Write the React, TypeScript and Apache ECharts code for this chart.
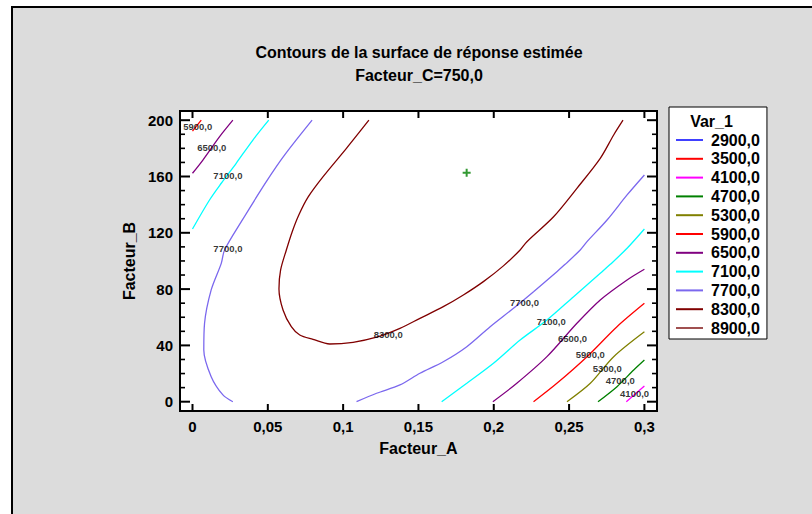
import React, { useEffect, useRef } from "react";
import * as echarts from "echarts";

// Contour levels shown in the legend
const levels = ["2900,0", "3500,0", "4100,0", "4700,0", "5300,0", "5900,0", "6500,0", "7100,0", "7700,0", "8300,0", "8900,0"];
const levelColors = ["#4040ff", "#ff0000", "#ff00ff", "#008000", "#808000", "#ff0000", "#800080", "#00ffff", "#7b68ee", "#800000", "#a05050"];

// Contour polylines (Facteur_A, Facteur_B)
const c4100 = [[0.288, 0], [0.3, 11.2]];
const c4700 = [[0.2692, 0], [0.2818, 10.7], [0.2929, 22.5], [0.3, 29.6]];
const c5300 = [[0.2486, 0], [0.2641, 13.1], [0.2796, 32], [0.3, 49.7]];
const c5900a = [[0, 192.3], [0.0058, 200]];
const c5900b = [[0.2264, 0], [0.2419, 13.1], [0.2619, 32], [0.2818, 53.3], [0.3, 69.9]];
const c6500a = [[0, 162.3], [0.0069, 171.7], [0.018, 188.3], [0.0268, 200]];
const c6500b = [[0.1994, 0], [0.2153, 13.1], [0.2353, 32], [0.2552, 55.7], [0.2707, 72.3], [0.2885, 86.5], [0.3, 94.1]];
const c7100a = [[0, 122.7], [0.0113, 143.3], [0.0191, 155.2], [0.029, 169.4], [0.0401, 185.9], [0.0506, 200]];
const c7100b = [[0.1654, 0], [0.1821, 13.1], [0.1998, 27.3], [0.2175, 43.8], [0.2353, 58], [0.253, 74.6], [0.2707, 91.2], [0.2774, 97.6], [0.2885, 109], [0.3, 122.7]];
const c7700a = [[0.0794, 200], [0.0612, 175.3], [0.049, 156.3], [0.0324, 127.9], [0.0213, 107.8], [0.0191, 98.3], [0.0124, 79.4], [0.008, 55.7], [0.0075, 36.7], [0.0124, 17.8], [0.0202, 4.8], [0.0268, 0]];
const c7700b = [[0.1089, 0], [0.1222, 6], [0.1377, 11.9], [0.151, 20.2], [0.1665, 28.4], [0.1821, 39.1], [0.1976, 53.3], [0.2131, 66.4], [0.2264, 78.2], [0.2419, 92.4], [0.2474, 97.6], [0.2574, 107.8], [0.2619, 113.7], [0.2752, 129.1], [0.2885, 146.9], [0.3, 161.1]];
const c8300 = [[0.1171, 200], [0.1022, 180], [0.0867, 159.9], [0.0768, 145.5], [0.0705, 132.5], [0.0662, 120.8], [0.0623, 107.8], [0.0585, 93.6], [0.0574, 80.1], [0.0601, 65.2], [0.0656, 53.3], [0.0712, 47.4], [0.08, 44.3], [0.0911, 41], [0.1066, 42.2], [0.1222, 45.8], [0.1377, 52.1], [0.151, 59.2], [0.1665, 67.5], [0.1798, 75.8], [0.1931, 85.3], [0.2064, 96.5], [0.2175, 107.8], [0.222, 113.7], [0.2397, 131.4], [0.2552, 151.6], [0.2707, 172.9], [0.2796, 189.5], [0.2858, 200]];

const contourLevels = ["4100,0", "4700,0", "5300,0", "5900,0", "5900,0", "6500,0", "6500,0", "7100,0", "7100,0", "7700,0", "7700,0", "8300,0"];
const contourLines = [c4100, c4700, c5300, c5900a, c5900b, c6500a, c6500b, c7100a, c7100b, c7700a, c7700b, c8300];

// Contour labels
const labelTexts = ["5900,0", "6500,0", "7100,0", "7700,0", "8300,0", "7700,0", "7100,0", "6500,0", "5900,0", "5300,0", "4700,0", "4100,0"];
const labelX = [0.0035, 0.0128, 0.0235, 0.0235, 0.1299, 0.2204, 0.2381, 0.2523, 0.2641, 0.2753, 0.284, 0.2935];
const labelY = [195.4, 180.4, 161.0, 109.0, 47.4, 70.6, 57.1, 44.9, 33.6, 23.7, 14.8, 5.6];

// Optimum point marker
const optimumPoint = [[0.182, 162.7]];

// Axes: data domain and ticks
const xDomain = [0, 0.3];
const xStep = 0.05;
const yDomain = [0, 200];
const yStep = 40;
const xTicks = [0, 0.05, 0.1, 0.15, 0.2, 0.25, 0.3];
const yTicks = [0, 40, 80, 120, 160, 200];
const yAllTicks = [0, 10, 20, 30, 40, 50, 60, 70, 80, 90, 100, 110, 120, 130, 140, 150, 160, 170, 180, 190, 200];

const FONT = "'Liberation Sans', Arial, Helvetica, sans-serif";

// Plot frame and domain placement (pixels)
const FRAME = { left: 180, top: 111, width: 477, height: 300 };
const DOMAIN_PX = { left: 192.5, right: 644.4, top: 120.2, bottom: 401.7 };

export default function App() {
  const ref = useRef<HTMLDivElement>(null);

  useEffect(() => {
    if (!ref.current) return;
    const chart = echarts.init(ref.current, undefined, { renderer: "svg" });
    const colorOf = (name: string) => levelColors[levels.indexOf(name)];

    // padded extents of the frame in data units
    const xPerPx = (xDomain[1] - xDomain[0]) / (DOMAIN_PX.right - DOMAIN_PX.left);
    const yPerPx = (yDomain[1] - yDomain[0]) / (DOMAIN_PX.bottom - DOMAIN_PX.top);
    const xMin = xDomain[0] - (DOMAIN_PX.left - FRAME.left) * xPerPx;
    const xMax = xDomain[1] + (FRAME.left + FRAME.width - DOMAIN_PX.right) * xPerPx;
    const yMin = yDomain[0] - (FRAME.top + FRAME.height - DOMAIN_PX.bottom) * yPerPx;
    const yMax = yDomain[1] + (DOMAIN_PX.top - FRAME.top) * yPerPx;

    const majorStyle = { stroke: "#000000", lineWidth: 2 };
    const minorStyle = { stroke: "#000000", lineWidth: 1.6 };

    const series: any[] = [];
    levels.forEach((lv) => {
      series.push({ type: "line", name: lv, data: [], showSymbol: false, itemStyle: { color: colorOf(lv) }, lineStyle: { color: colorOf(lv), width: 1.3 }, silent: true });
    });
    contourLines.forEach((pts, i) => {
      const lv = contourLevels[i];
      series.push({ type: "line", name: lv, data: pts, showSymbol: false, symbol: "none", smooth: 0.3, itemStyle: { color: colorOf(lv) }, lineStyle: { color: colorOf(lv), width: 1.3 }, silent: true, z: 3 });
    });
    series.push({
      type: "scatter", name: "labels",
      data: labelTexts.map((t, i) => ({ name: t, value: [labelX[i], labelY[i]] })),
      symbolSize: 1, itemStyle: { color: "rgba(0,0,0,0)" }, silent: true, z: 5,
      label: { show: true, position: "inside", formatter: "{b}", fontFamily: FONT, fontSize: 9.5, fontWeight: "bold", color: "#000" },
    });
    series.push({ type: "scatter", name: "optimum", data: optimumPoint, symbol: "path://M3,0H5V3H8V5H5V8H3V5H0V3H3Z", symbolSize: 8, itemStyle: { color: "#008000" }, silent: true, z: 6 });
    // frame ticks on bottom and top, placed through the x scale
    series.push({
      type: "custom", name: "xTicks", silent: true, clip: false, z: 8,
      data: xTicks.map((v) => [v, 0]),
      encode: { x: 0, y: 1 },
      renderItem: (_p: any, api: any) => {
        const v = api.value(0);
        const b = api.coord([v, yMin]);
        const t = api.coord([v, yMax]);
        return {
          type: "group",
          children: [
            { type: "line", shape: { x1: b[0], y1: b[1], x2: b[0], y2: b[1] - 7 }, style: majorStyle },
            { type: "line", shape: { x1: t[0], y1: t[1], x2: t[0], y2: t[1] + 7 }, style: majorStyle },
          ],
        };
      },
    });
    // frame ticks on left and right, placed through the y scale
    series.push({
      type: "custom", name: "yTicks", silent: true, clip: false, z: 8,
      data: yAllTicks.map((v) => [0, v]),
      encode: { x: 0, y: 1 },
      renderItem: (_p: any, api: any) => {
        const v = api.value(1);
        const major = yTicks.indexOf(v) >= 0;
        const len = major ? 10 : 5;
        const st = major ? majorStyle : minorStyle;
        const l = api.coord([xMin, v]);
        const r = api.coord([xMax, v]);
        return {
          type: "group",
          children: [
            { type: "line", shape: { x1: l[0], y1: l[1], x2: l[0] + len, y2: l[1] }, style: st },
            { type: "line", shape: { x1: r[0], y1: r[1], x2: r[0] - len, y2: r[1] }, style: st },
          ],
        };
      },
    });

    const tickLabel = { fontFamily: FONT, fontSize: 15, fontWeight: "bold", color: "#000" };
    const nameStyle = { fontFamily: FONT, fontSize: 16, fontWeight: "bold", color: "#000" };
    const fmt = (v: number) => String(v).replace(".", ",");
    const hidden = (gridIndex: number) => ({ type: "value", gridIndex, show: false, min: 0, max: 1 });

    const option: any = {
      animation: false,
      grid: [
        { left: FRAME.left, top: FRAME.top, width: FRAME.width, height: FRAME.height, show: true, backgroundColor: "#ffffff", borderColor: "#000000", borderWidth: 2, z: 0 },
        { left: DOMAIN_PX.left, top: FRAME.top, width: DOMAIN_PX.right - DOMAIN_PX.left, height: FRAME.height, show: false },
        { left: FRAME.left, top: DOMAIN_PX.top, width: FRAME.width, height: DOMAIN_PX.bottom - DOMAIN_PX.top, show: false },
      ],
      xAxis: [
        { type: "value", gridIndex: 0, show: false, min: xMin, max: xMax },
        {
          type: "value", gridIndex: 1, position: "bottom", min: xDomain[0], max: xDomain[1], interval: xStep,
          axisLine: { show: false, onZero: false },
          splitLine: { show: false },
          axisTick: { show: false },
          axisLabel: { formatter: fmt, margin: 8, ...tickLabel },
          name: "Facteur_A", nameLocation: "middle", nameGap: 29, nameTextStyle: nameStyle,
        },
        hidden(2),
      ],
      yAxis: [
        { type: "value", gridIndex: 0, show: false, min: yMin, max: yMax },
        hidden(1),
        {
          type: "value", gridIndex: 2, position: "left", min: yDomain[0], max: yDomain[1], interval: yStep,
          axisLine: { show: false, onZero: false },
          splitLine: { show: false },
          axisTick: { show: false },
          axisLabel: { margin: 7, ...tickLabel },
          name: "Facteur_B", nameLocation: "middle", nameGap: 36, nameTextStyle: nameStyle,
        },
      ],
      legend: {
        show: true, data: levels, orient: "vertical", left: 669, top: 107, padding: [25, 7, 3, 7],
        itemWidth: 27, itemHeight: 2, itemGap: 2.8, icon: "rect", selectedMode: false,
        backgroundColor: "#ffffff", borderColor: "#000000", borderWidth: 1, itemStyle: { borderWidth: 0 },
        textStyle: { fontFamily: FONT, fontSize: 16, fontWeight: "bold", color: "#000", lineHeight: 16, padding: [0, 0, 0, 3] },
      },
      graphic: [
        { type: "text", x: 419, y: 52, z: 100, style: { text: "Contours de la surface de réponse estimée", fontFamily: FONT, fontSize: 16, fontWeight: "bold", fill: "#000", align: "center", verticalAlign: "middle" } },
        { type: "text", x: 419, y: 75.5, z: 100, style: { text: "Facteur_C=750,0", fontFamily: FONT, fontSize: 16, fontWeight: "bold", fill: "#000", align: "center", verticalAlign: "middle" } },
        { type: "text", x: 711.5, y: 121.7, z: 100, style: { text: "Var_1", fontFamily: FONT, fontSize: 16, fontWeight: "bold", fill: "#000", align: "center", verticalAlign: "middle" } },
      ],
      series,
    };

    chart.setOption(option);
    return () => chart.dispose();
  }, []);

  return (
    <div style={{ position: "fixed", left: 0, top: 0, width: 812, height: 514, background: "#ffffff", overflow: "hidden" }}>
      <div style={{ position: "absolute", left: 11, top: 6, width: 812, height: 520, background: "#dcdcdc", borderLeft: "2px solid #000", borderTop: "2px solid #000" }} />
      <div ref={ref} style={{ position: "absolute", left: 0, top: 0, width: 812, height: 514 }} />
    </div>
  );
}
